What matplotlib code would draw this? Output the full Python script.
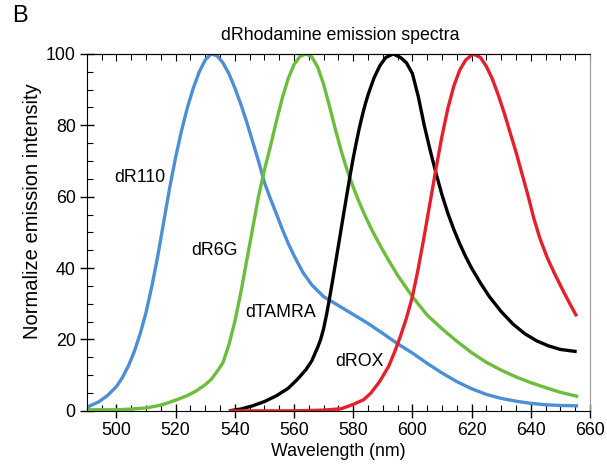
import matplotlib.pyplot as plt
from matplotlib.ticker import MultipleLocator

plt.rcParams['font.family'] = ['Liberation Sans', 'DejaVu Sans']

# dR110 (blue)
r110_wl = [490, 494, 497, 500, 502, 504, 506, 508, 510, 512, 514, 516, 518, 520, 522, 524,
           526, 528, 530, 532, 534, 536, 538, 540, 542, 544, 546, 548, 550, 552, 554, 556,
           558, 560, 563, 566, 570, 575, 580, 585, 590, 595, 600, 605, 610, 615, 620, 625,
           630, 635, 640, 645, 650, 656]
r110_val = [1, 2.5, 4.3, 6.8, 9.3, 12.5, 16.5, 21.5, 27.5, 35, 43.5, 53, 62.5, 71, 78.5, 85,
            90.5, 95, 98.3, 100, 99.5, 97.5, 94.5, 90.5, 86, 81, 75.5, 70, 64, 59.5, 55.3, 51,
            47, 43.5, 38.8, 35.3, 32, 29.5, 27, 24.5, 21.7, 18.8, 16.2, 13.3, 10.6, 8.2, 6.2, 4.6,
            3.5, 2.7, 2.1, 1.7, 1.5, 1.4]

# dR6G (green)
r6g_wl = [490, 500, 505, 510, 515, 518, 521, 524, 527, 530, 532, 534, 536, 538, 540, 542,
          544, 546, 548, 550, 552, 554, 556, 558, 560, 562, 564, 566, 568, 570, 572, 574,
          576, 578, 580, 582, 584, 586, 588, 590, 592, 595, 600, 605, 610, 615, 620, 625,
          630, 635, 640, 645, 650, 656]
r6g_val = [0.3, 0.3, 0.5, 0.8, 1.6, 2.4, 3.3, 4.3, 5.6, 7.3, 8.8, 11, 13.5, 18.5, 25, 33,
           42, 51, 60, 67.5, 74, 81, 87.5, 93, 97, 99.3, 100, 99.2, 96.3, 91.5, 85.3, 78.8,
           72.7, 67.3, 62.7, 58.5, 54.7, 51.2, 48, 45, 42.1, 38, 32, 26.8, 23, 19.5, 16.3, 13.6,
           11.4, 9.5, 7.9, 6.5, 5.2, 4]

# dTAMRA (black)
tamra_wl = [538, 542, 546, 550, 554, 558, 561, 564, 566, 568, 569, 570, 571, 572, 573, 574,
            575, 576, 577, 578, 579, 580, 581, 582, 583, 584, 585, 587, 589, 591, 593.5, 596,
            598, 600, 602, 604, 606, 608, 610, 612, 614, 616, 618, 620, 623, 626, 630, 634,
            638, 642, 646, 650, 655.5]
tamra_val = [0, 0.5, 1.4, 2.6, 4.2, 6.3, 8.7, 11.5, 14, 17.8, 20, 23, 27, 31.5, 36.3, 41.3,
             46.3, 51.3, 56.3, 61.3, 66.2, 70.8, 75, 79, 82.5, 85.7, 88.5, 93.2, 96.7, 99, 100, 99,
             97.5, 94.5, 88, 80, 73, 66.5, 60.5, 55.3, 50.8, 46.8, 43.2, 40, 35.8, 32, 27.8, 24.3,
             21.6, 19.6, 18.2, 17.2, 16.6]

# dROX (red)
rox_wl = [538, 550, 560, 570, 576, 580, 583.5, 586, 589, 592, 594, 596, 598, 600, 602, 604,
          606, 608, 610, 612, 614, 616, 618, 620.5, 623, 625, 627, 629, 631, 633, 635, 637,
          639, 641, 643, 645.5, 648, 651, 653, 655.5]
rox_val = [0, 0, 0, 0.2, 0.6, 1.8, 3.1, 5, 8.3, 12.5, 16.5, 21, 26, 32, 40, 49,
           58.5, 68, 77, 84.8, 91, 95.5, 98.3, 100, 99, 96.5, 93, 88.5, 83.5, 78, 72.5, 66.5,
           60.5, 54, 48.5, 43, 38.5, 33.5, 30.3, 26.5]

dyes = ['dR110', 'dR6G', 'dTAMRA', 'dROX']
colors = ['#4d8fd6', '#6cbd3c', '#000000', '#e5202b']
label_pos = [(508, 65.5), (533, 45), (555.5, 27.5), (582, 13.8)]

fig = plt.figure(figsize=(6.07, 4.69), dpi=100)
ax = fig.add_axes([0.143, 0.124, 0.829, 0.761])

series = [(r110_wl, r110_val), (r6g_wl, r6g_val), (tamra_wl, tamra_val), (rox_wl, rox_val)]
for (wl, val), c in zip(series, colors):
    ax.plot(wl, val, color=c, lw=2.4, solid_joinstyle='round', solid_capstyle='butt')

for name, (x, y) in zip(dyes, label_pos):
    ax.text(x, y, name, fontsize=12.8, ha='center', va='center')

ax.set_xlim(490, 660)
ax.set_ylim(0, 100)
ax.xaxis.set_major_locator(MultipleLocator(20))
ax.xaxis.set_minor_locator(MultipleLocator(5))
ax.yaxis.set_major_locator(MultipleLocator(20))
ax.yaxis.set_minor_locator(MultipleLocator(5))
ax.tick_params(axis='x', which='major', direction='inout', length=10, width=1, labelsize=12.8, pad=3)
ax.tick_params(axis='x', which='minor', direction='in', length=4, width=0.8)
ax.tick_params(axis='y', which='major', direction='inout', length=10, width=1, labelsize=12.8, pad=3)
ax.tick_params(axis='y', which='minor', direction='in', length=4, width=0.8)

# top axis: inward ticks only
top = ax.secondary_xaxis('top')
top.xaxis.set_major_locator(MultipleLocator(20))
top.xaxis.set_minor_locator(MultipleLocator(5))
top.tick_params(which='major', direction='in', length=5, width=0.8, labeltop=False)
top.tick_params(which='minor', direction='in', length=4, width=0.7)
top.spines['top'].set_linewidth(0.8)

ax.spines['right'].set_color('#999999')
ax.spines['right'].set_linewidth(0.8)
ax.spines['top'].set_linewidth(0.8)

ax.set_xlabel('Wavelength (nm)', fontsize=12.8, labelpad=3)
fig.text(0.053, 0.55, 'Normalize emission intensity', fontsize=14.5, rotation=90,
         ha='center', va='center')
fig.text(0.56, 0.925, 'dRhodamine emission spectra', fontsize=12.8, ha='center', va='center')
fig.text(0.02, 0.99, 'B', fontsize=17, va='top', ha='left')

fig.savefig('out.png', dpi=100)
